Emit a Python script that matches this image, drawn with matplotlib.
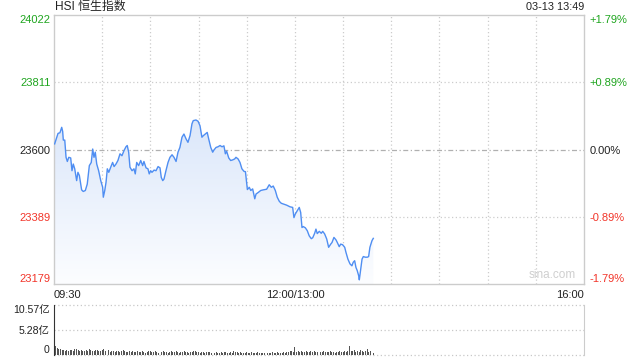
import numpy as np
import matplotlib
matplotlib.use('Agg')
from matplotlib import pyplot as plt
from matplotlib.patches import Polygon
from matplotlib.colors import LinearSegmentedColormap

plt.rcParams['font.family'] = ['Liberation Sans', 'Noto Sans CJK SC', 'DejaVu Sans']

# minutes of trading since 09:30 (lunch break 12:00-13:00 removed)
minutes = [0.4, 1.7, 2.5, 3.7, 4.8, 5.4, 5.8, 6.7, 7.5, 8.3, 9.2, 10.4, 11.2, 12.0, 12.9,
           14.1, 14.9, 15.8, 17.2, 18.2, 19.5, 20.7, 22.0, 23.2, 24.1, 24.9, 25.7, 26.6,
           27.8, 29.1, 30.3, 30.7, 31.6, 32.4, 33.2, 34.1, 35.3, 36.5, 37.4, 38.6, 39.8,
           41.1, 42.3, 43.6, 44.8, 45.6, 46.5, 47.3, 48.6, 49.8, 50.6, 51.5, 52.7, 54.0,
           55.2, 56.0, 57.3, 58.5, 59.3, 60.2, 61.0, 62.3, 63.5, 64.8, 66.0, 66.8, 67.7,
           68.5, 69.7, 71.0, 72.2, 73.5, 74.7, 76.0, 77.2, 78.4, 79.7, 80.9, 82.2, 83.4,
           84.7, 85.9, 86.7, 88.4, 89.7, 90.9, 92.1, 93.0, 94.2, 95.4, 96.3, 97.6, 98.8,
           99.6, 100.9, 102.1, 103.4, 104.6, 105.8, 106.7, 107.5, 108.8, 110.0, 111.3,
           112.5, 113.3, 114.6, 115.8, 117.0, 118.3, 119.2, 119.8, 120.4, 121.6, 122.5,
           123.7, 125.0, 125.8, 127.2, 128.7, 130.3, 132.4, 134.0, 135.3, 136.5, 137.8,
           139.0, 140.3, 141.5, 143.2, 144.9, 146.9, 148.6, 149.4, 150.2, 151.5, 152.7,
           153.6, 154.4, 155.2, 156.5, 157.7, 158.9, 160.2, 161.1, 162.3, 163.1, 163.9,
           165.2, 166.4, 167.3, 168.5, 169.8, 171.0, 172.3, 173.1, 174.3, 175.6, 176.4,
           177.6, 178.5, 179.7, 181.0, 181.8, 183.0, 184.3, 185.5, 186.3, 187.2, 188.0,
           188.8, 189.7, 190.1, 191.0, 191.8, 192.6, 193.8, 195.1, 195.9, 196.7, 198.0, 198.8]
price = [23618, 23639, 23651, 23653, 23670, 23657, 23630, 23630, 23576, 23563, 23576, 23574,
         23534, 23555, 23540, 23503, 23529, 23519, 23474, 23469, 23472, 23492, 23550, 23560,
         23602, 23576, 23592, 23555, 23534, 23503, 23482, 23451, 23472, 23498, 23540, 23529,
         23545, 23560, 23547, 23555, 23566, 23587, 23581, 23597, 23609, 23613, 23592, 23545,
         23534, 23540, 23524, 23560, 23550, 23566, 23550, 23563, 23543, 23540, 23524, 23534,
         23529, 23536, 23534, 23547, 23543, 23513, 23503, 23508, 23534, 23560, 23576, 23584,
         23576, 23563, 23592, 23607, 23639, 23649, 23634, 23623, 23644, 23681, 23691, 23693,
         23689, 23675, 23639, 23644, 23649, 23654, 23634, 23607, 23592, 23599, 23607, 23609,
         23613, 23609, 23612, 23587, 23595, 23574, 23566, 23568, 23571, 23576, 23571, 23560,
         23540, 23532, 23531, 23503, 23475, 23482, 23472, 23477, 23446, 23461, 23466, 23472,
         23474, 23476, 23490, 23482, 23486, 23472, 23451, 23438, 23432, 23429, 23426, 23421,
         23419, 23387, 23398, 23409, 23419, 23403, 23356, 23359, 23355, 23346, 23330, 23321,
         23324, 23338, 23351, 23337, 23344, 23338, 23344, 23336, 23320, 23294, 23304, 23309,
         23325, 23317, 23309, 23296, 23304, 23302, 23294, 23278, 23257, 23242, 23236, 23247,
         23252, 23231, 23221, 23205, 23192, 23226, 23257, 23265, 23263, 23263, 23265, 23294,
         23315, 23322]

# volume per minute, in 亿
volume = [10.57, 1.9, 1.5, 1.2, 1.3, 1.0, 1.1, 0.9, 1.0, 0.9,
          1.1, 1.0, 0.8, 1.2, 1.3, 1.0, 0.9, 1.1, 0.9, 0.8,
          1.0, 0.9, 1.2, 1.0, 0.8, 0.9, 1.1, 1.0, 0.8, 0.9,
          1.0, 1.2, 0.9, 0.8, 1.0, 0.7, 0.9, 0.8, 0.7, 0.8,
          0.9, 0.7, 0.8, 1.0, 0.8, 0.7, 0.6, 0.8, 0.7, 0.9,
          0.6, 0.7, 0.8, 0.6, 0.7, 0.9, 0.6, 0.5, 0.7, 0.8,
          0.9, 0.6, 0.7, 0.8, 0.6, 0.5, 0.7, 0.6, 0.8, 0.7,
          0.6, 0.5, 0.7, 0.8, 0.6, 0.7, 0.9, 0.6, 0.5, 0.7,
          0.6, 0.8, 0.7, 0.6, 0.5, 0.7, 0.6, 0.8, 0.9, 0.7,
          0.6, 0.5, 0.7, 0.6, 0.5, 0.6, 0.7, 0.6, 0.5, 0.4,
          0.5, 0.6, 0.5, 0.4, 0.6, 0.5, 0.6, 0.7, 0.5, 0.4,
          0.6, 0.5, 0.9, 0.7, 0.6, 0.5, 0.6, 0.5, 0.4, 0.5,
          0.6, 0.4, 0.5, 0.6, 0.5, 0.4, 0.5, 0.6, 0.5, 0.4,
          0.5, 0.4, 0.6, 0.5, 0.4, 0.5, 0.7, 0.5, 0.4, 0.6,
          0.5, 0.4, 0.5, 0.6, 0.5, 0.7, 0.6, 0.8, 0.9, 0.7,
          1.75, 0.6, 0.8, 0.7, 0.9, 0.6, 0.7, 0.8, 0.6, 0.7,
          0.8, 0.6, 0.9, 0.7, 0.6, 0.8, 0.7, 0.6, 0.9, 0.7,
          0.6, 0.7, 0.8, 0.6, 0.7, 0.5, 0.6, 0.7, 0.8, 0.6,
          0.7, 0.9, 0.6, 0.8, 1.9, 0.9, 0.8, 1.0, 0.7, 0.8,
          0.7, 1.0, 0.8, 0.6, 0.9, 1.2, 0.7, 0.8, 0.5, 0.4]

prev_close = 23600.5
price_ticks = [23179, 23389, 23600, 23811, 24022]
pct_labels = ['-1.79%', '-0.89%', '0.00%', '+0.89%', '+1.79%']
tick_colors = ['#f2352a', '#f2352a', '#222222', '#1fa51f', '#1fa51f']
vol_ticks = [0, 5.28, 10.57]
vol_labels = ['0', '5.28亿', '10.57亿']
time_ticks = [0, 150, 330]
time_labels = ['09:30', '12:00/13:00', '16:00']
title = 'HSI 恒生指数'
stamp = '03-13 13:49'

W, H = 640, 360
fig = plt.figure(figsize=(6.4, 3.6), dpi=100)


def box(l, t, r, b):
    return [l / W, 1 - b / H, (r - l) / W, (b - t) / H]


ax = fig.add_axes(box(54, 15, 584, 284))
ylo, yhi = price_ticks[0], price_ticks[-1]
t = np.array(minutes)
p = np.array(price)

# gradient fill under the line
verts = list(zip(t, p)) + [(t[-1], ylo), (t[0], ylo)]
poly = Polygon(verts, closed=True, facecolor='none', edgecolor='none')
ax.add_patch(poly)
grad = np.linspace(0, 1, 256).reshape(-1, 1)
cmap = LinearSegmentedColormap.from_list('g', ['#fcfdff', '#dbe7fa'])
im = ax.imshow(grad, extent=[t[0], t[-1], ylo, p.max()], origin='lower',
               aspect='auto', cmap=cmap, zorder=1)
im.set_clip_path(poly)

ax.plot(t, p, color='#4f8ef2', lw=1.0, zorder=3)

ax.set_xlim(0, 330)
ax.set_ylim(ylo, yhi)

# grid
for x in range(30, 330, 30):
    ax.axvline(x, color='#cccccc', lw=0.9, ls=(0, (1, 2)), zorder=0)
for y in price_ticks[1:-1]:
    if y == 23600:
        ax.axhline(y, color='#b0b0b0', lw=0.9, ls=(0, (4, 2, 1, 2)), zorder=0)
    else:
        ax.axhline(y, color='#cccccc', lw=0.9, ls=(0, (1, 2)), zorder=0)

for s in ax.spines.values():
    s.set_color('#cccccc')
    s.set_linewidth(1)

ax.set_yticks(price_ticks)
ax.set_yticklabels([str(v) for v in price_ticks], fontsize=8)
ax.tick_params(axis='both', length=0, pad=2.5)
for lab, c in zip(ax.get_yticklabels(), tick_colors):
    lab.set_color(c)
ax.get_yticklabels()[0].set_va('bottom')
ax.get_yticklabels()[-1].set_va('top')

ax.set_xticks(time_ticks)
ax.set_xticklabels(time_labels, fontsize=8, color='#222222')
ax.tick_params(axis='x', pad=4)
for lab, ha in zip(ax.get_xticklabels(), ['left', 'center', 'right']):
    lab.set_ha(ha)

ax2 = ax.twinx()
ax2.set_ylim(ylo, yhi)
ax2.set_yticks(price_ticks)
ax2.set_yticklabels(pct_labels, fontsize=8)
ax2.tick_params(length=0, pad=4)
for lab, c in zip(ax2.get_yticklabels(), tick_colors):
    lab.set_color(c)
ax2.get_yticklabels()[0].set_va('bottom')
ax2.get_yticklabels()[-1].set_va('top')
for s in ax2.spines.values():
    s.set_visible(False)

ax.text(0.985, 0.01, 'sina.com', transform=ax.transAxes, ha='right', va='bottom',
        fontsize=8.5, color='#cfcfcf')

fig.text(55 / W, 1 - 7 / H, title, ha='left', va='center', fontsize=8.6, color='#222222')
fig.text(584 / W, 1 - 7 / H, stamp, ha='right', va='center', fontsize=7.8, color='#222222')

# volume panel
axv = fig.add_axes(box(54, 305, 584, 355))
axv.bar(np.arange(len(volume)), volume, width=0.6, color='#555555', zorder=2)
axv.set_xlim(0, 330)
axv.set_ylim(0, vol_ticks[-1])
for y in vol_ticks:
    axv.axhline(y, color='#c8c8c8', lw=0.9, ls=(0, (1, 2)), zorder=0, clip_on=False)
axv.spines['top'].set_visible(False)
axv.spines['bottom'].set_visible(False)
axv.spines['left'].set_color('#333333')
axv.spines['right'].set_color('#cccccc')
axv.set_xticks([])
axv.set_yticks(vol_ticks)
axv.set_yticklabels(vol_labels, fontsize=7.6, color='#222222')
axv.tick_params(length=0, pad=3)
axv.get_yticklabels()[0].set_va('bottom')
axv.get_yticklabels()[-1].set_va('top')

fig.savefig('out.png', dpi=100)
